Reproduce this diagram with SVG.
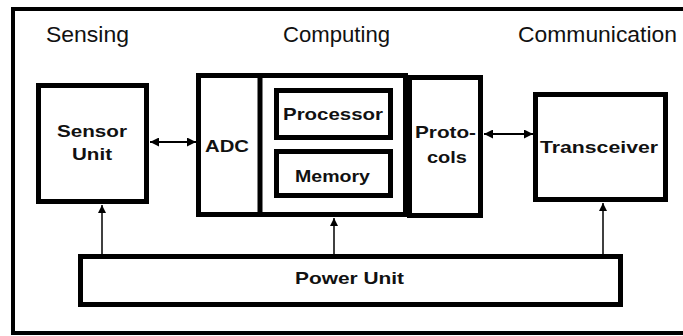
<svg xmlns="http://www.w3.org/2000/svg" width="683" height="336" viewBox="0 0 683 336">
  <style>
    .box { fill: #fff; stroke: #000; stroke-width: 5; }
    .frame { fill: #fff; stroke: #000; stroke-width: 4; }
    .title { font-family: "Liberation Sans", Arial, sans-serif; font-size: 22px; fill: #111; }
    .lbl { font-family: "Liberation Sans", Arial, sans-serif; font-size: 17px; font-weight: bold; fill: #111; }
    .conn { stroke: #000; fill: none; }
  </style>
  <defs>
    <marker id="ah" viewBox="0 0 10 10" refX="10" refY="5" markerUnits="userSpaceOnUse" markerWidth="9" markerHeight="9" orient="auto-start-reverse">
      <path d="M0,0 L10,5 L0,10 z" fill="#000"/>
    </marker>
    <marker id="ahv" viewBox="0 0 10 10" refX="10" refY="5" markerUnits="userSpaceOnUse" markerWidth="11" markerHeight="8" orient="auto">
      <path d="M0,0 L10,5 L0,10 z" fill="#000"/>
    </marker>
  </defs>

  <rect class="frame" x="13" y="9" width="680" height="324"/>

  <text class="title" x="46" y="42" textLength="83" lengthAdjust="spacingAndGlyphs">Sensing</text>
  <text class="title" x="283" y="42" textLength="107" lengthAdjust="spacingAndGlyphs">Computing</text>
  <text class="title" x="518" y="42" textLength="159" lengthAdjust="spacingAndGlyphs">Communication</text>

  <g id="sensor-unit">
    <rect class="box" x="38.5" y="85.5" width="108" height="116"/>
    <text class="lbl" x="57" y="137" textLength="70" lengthAdjust="spacingAndGlyphs">Sensor</text>
    <text class="lbl" x="72" y="160" textLength="40" lengthAdjust="spacingAndGlyphs">Unit</text>
  </g>

  <g id="computing">
    <rect class="box" x="198.5" y="75.5" width="207" height="139"/>
    <line x1="260" y1="75" x2="260" y2="215" stroke="#000" stroke-width="5"/>
  </g>

  <g id="adc">
    <text class="lbl" x="205" y="152" textLength="44" lengthAdjust="spacingAndGlyphs">ADC</text>
  </g>

  <g id="processor">
    <rect class="box" x="276.5" y="90.5" width="114" height="47"/>
    <text class="lbl" x="283" y="120" textLength="100" lengthAdjust="spacingAndGlyphs">Processor</text>
  </g>

  <g id="memory">
    <rect class="box" x="276.5" y="151.5" width="114" height="44"/>
    <text class="lbl" x="295" y="182" textLength="75" lengthAdjust="spacingAndGlyphs">Memory</text>
  </g>

  <g id="protocols">
    <rect class="box" x="409.5" y="77.5" width="71" height="138"/>
    <text class="lbl" x="415" y="138" textLength="61" lengthAdjust="spacingAndGlyphs">Proto-</text>
    <text class="lbl" x="427" y="163" textLength="40" lengthAdjust="spacingAndGlyphs">cols</text>
  </g>

  <g id="transceiver">
    <rect class="box" x="535.5" y="94.5" width="130" height="105"/>
    <text class="lbl" x="540" y="153" textLength="118" lengthAdjust="spacingAndGlyphs">Transceiver</text>
  </g>

  <g id="power-unit">
    <rect class="box" x="80.5" y="256.5" width="540" height="48"/>
    <text class="lbl" x="295" y="284" textLength="109" lengthAdjust="spacingAndGlyphs">Power Unit</text>
  </g>

  <g id="connectors">
    <line class="conn" x1="150" y1="142" x2="196" y2="142" stroke-width="2" marker-start="url(#ah)" marker-end="url(#ah)"/>
    <line class="conn" x1="484" y1="134" x2="533" y2="134" stroke-width="2" marker-start="url(#ah)" marker-end="url(#ah)"/>
    <line class="conn" x1="102" y1="254" x2="102" y2="205" stroke-width="1.5" marker-end="url(#ahv)"/>
    <line class="conn" x1="334" y1="254" x2="334" y2="218" stroke-width="1.5" marker-end="url(#ahv)"/>
    <line class="conn" x1="603" y1="254" x2="603" y2="203" stroke-width="1.5" marker-end="url(#ahv)"/>
  </g>
</svg>
